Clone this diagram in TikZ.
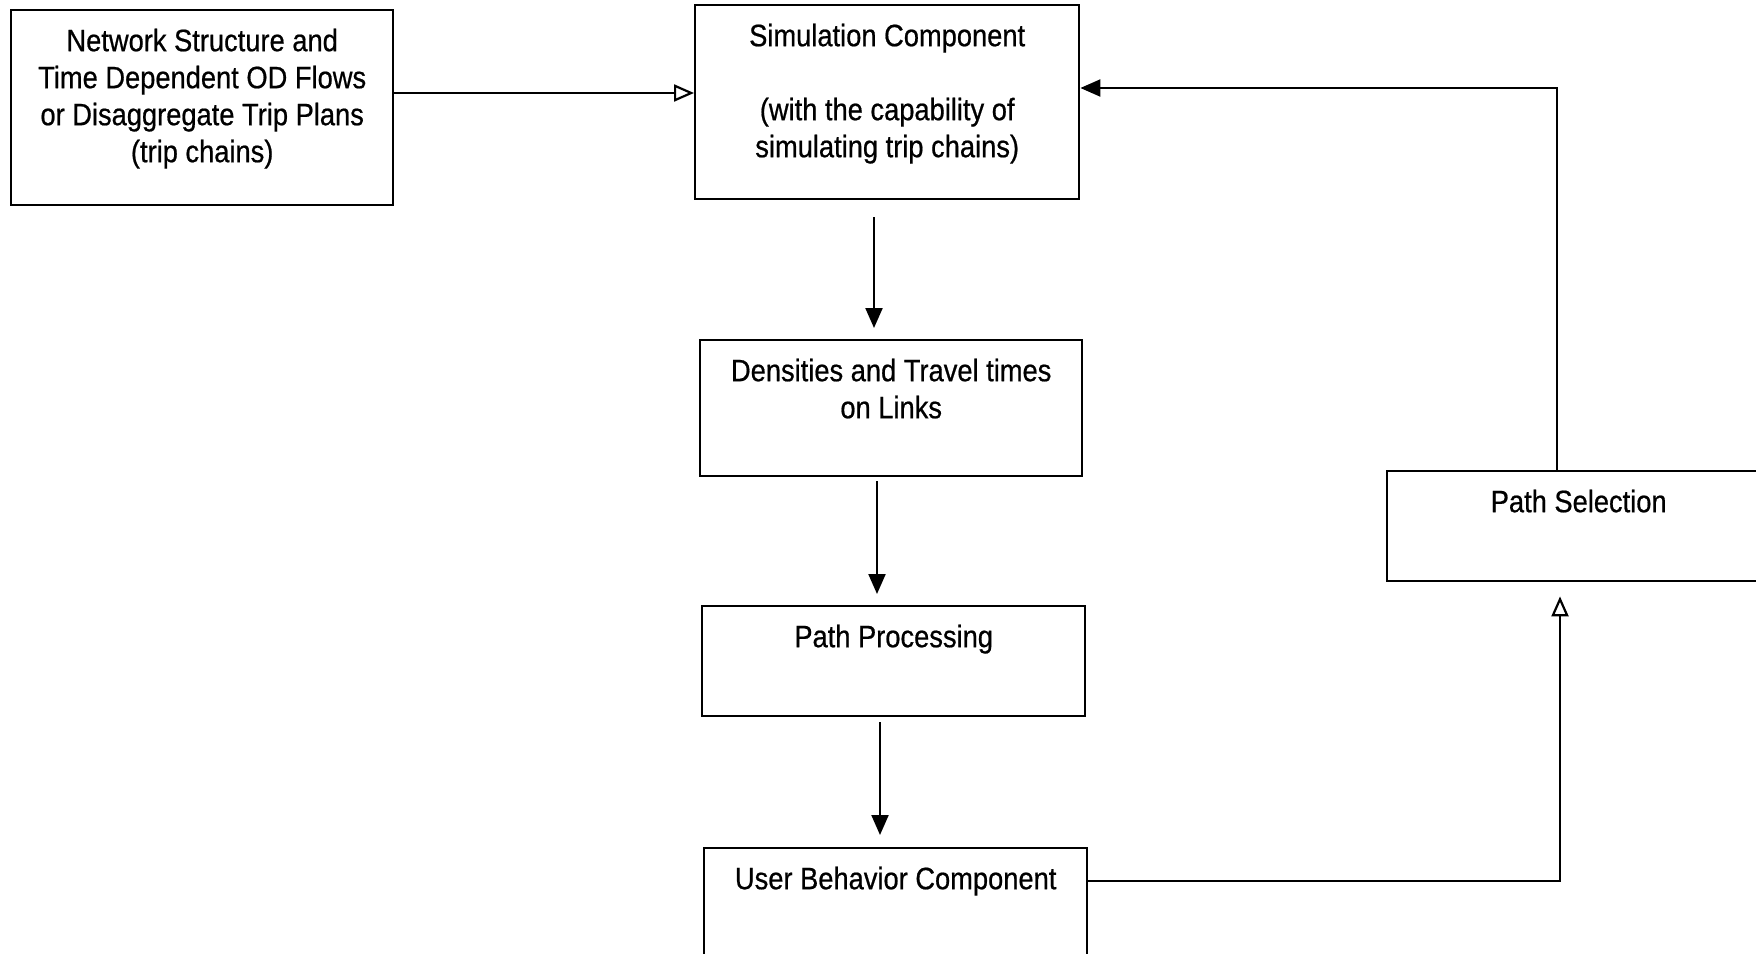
\documentclass[tikz,border=0pt]{standalone}
\usepackage{fontspec}
\setmainfont{Liberation Sans}[FakeStretch=0.88,FakeBold=0.6]
\usetikzlibrary{arrows.meta}
\tikzset{
  boxnode/.style={draw, line width=1.2pt, rectangle, inner sep=0pt, anchor=north west,
    font=\fontsize{15.5}{18.5}\selectfont},
  arr/.style={line width=1.1pt, -{Triangle[length=10pt,width=8.5pt]}},
  arro/.style={line width=1.1pt, -{Triangle[open,length=10pt,width=8.5pt]}}
}
\newcommand{\boxtext}[3]{\parbox[t][#2pt][t]{#1pt}{\centering\rule{0pt}{20.5pt}#3}}
\begin{document}
\begin{tikzpicture}[x=0.5pt,y=-0.5pt]
\useasboundingbox (0,0) rectangle (1756,953);
\clip (0,0) rectangle (1756,953);
\fill[white] (0,0) rectangle (1756,953);

\node[boxnode] (net) at (10,9) {\boxtext{191}{97.5}{Network Structure and\\Time Dependent OD Flows\\or Disaggregate Trip Plans\\(trip chains)}};
\node[boxnode] (sim) at (694,4) {\boxtext{192}{97}{Simulation Component\\[18.5pt](with the capability of\\simulating trip chains)}};
\node[boxnode] (dens) at (699,339) {\boxtext{191}{68}{Densities and Travel times\\on Links}};
\node[boxnode] (pp) at (701,605) {\boxtext{191.5}{55}{Path Processing}};
\node[boxnode] (ub) at (703,847) {\boxtext{191.5}{75}{User Behavior Component}};
\node[boxnode] (ps) at (1386,470) {\boxtext{191.5}{55}{Path Selection}};

\coordinate (a1) at (0,93);
\coordinate (c2) at (874,0);
\coordinate (c3) at (877,0);
\coordinate (c4) at (880,0);
\coordinate (r1) at (1560,881);
\coordinate (r2) at (1557,88);

\draw[arro] (net.east |- a1) -- (sim.west |- a1);
\draw[arr, shorten <=8.5pt, shorten >=5.5pt] (sim.south -| c2) -- (dens.north -| c2);
\draw[arr, shorten <=2pt, shorten >=5.5pt] (dens.south -| c3) -- (pp.north -| c3);
\draw[arr, shorten <=2.5pt, shorten >=6pt] (pp.south -| c4) -- (ub.north -| c4);
\draw[arro, shorten >=7pt] (ub.east |- r1) -| (ps.south -| r1);
\draw[arr] (ps.north -| r2) |- (sim.east |- r2);
\end{tikzpicture}
\end{document}
